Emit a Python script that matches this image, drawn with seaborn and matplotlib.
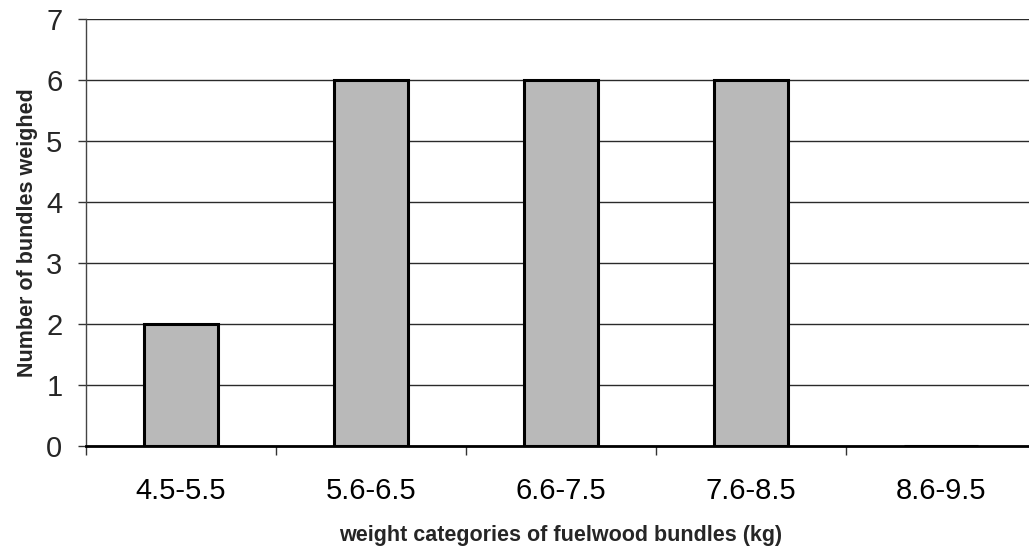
import matplotlib
matplotlib.use("Agg")
import matplotlib.pyplot as plt
import seaborn as sns
import numpy as np
import pandas as pd

categories = ["4.5-5.5", "5.6-6.5", "6.6-7.5", "7.6-8.5", "8.6-9.5"]
counts = [2, 6, 6, 6, 0]
y_ticks = [0, 1, 2, 3, 4, 5, 6, 7]
x_label = "weight categories of fuelwood bundles (kg)"
y_label = "Number of bundles weighed"

sns.set_theme(style="white")
plt.rcParams['font.family'] = ['Liberation Sans', 'DejaVu Sans']

df = pd.DataFrame({"cat": categories, "n": counts})

fig = plt.figure(figsize=(10.29, 5.49), dpi=100)
ax = fig.add_axes([86/1029, 1 - 446/549, 950/1029, 427/549])
ax.set_axisbelow(True)
ax.yaxis.grid(True, color="#2a2a2a", linewidth=1.0)

sns.barplot(data=df, x="cat", y="n", ax=ax, width=0.385, color="#b9b9b9",
            edgecolor="black", linewidth=2.2, saturation=1)

ax.set_xlim(-0.5, 4.5)
ax.set_ylim(0, 7)
ax.set_yticks(y_ticks)
ax.set_yticklabels([str(v) for v in y_ticks], fontsize=21)
ax.set_xticks(range(len(categories)))
ax.set_xticklabels(categories, fontsize=21)
ax.set_xticks(np.arange(-0.5, len(categories) + 0.5, 1), minor=True)
ax.tick_params(axis="x", which="major", length=0, pad=22, colors="black")
ax.tick_params(axis="x", which="minor", bottom=True, length=6.5, width=1, color="#333333")
ax.tick_params(axis="y", which="major", left=True, length=6, width=1, color="#333333", pad=11)

for s in ["top", "right"]:
    ax.spines[s].set_visible(False)
ax.spines["left"].set_color("#444444")
ax.spines["left"].set_linewidth(1.0)
ax.spines["bottom"].set_color("black")
ax.spines["bottom"].set_linewidth(2.0)

ax.set_xlabel(x_label, fontsize=15.5, fontweight="bold", labelpad=15)
ax.set_ylabel(y_label, fontsize=15.5, fontweight="bold", labelpad=6)

fig.savefig("out.png", dpi=100)
